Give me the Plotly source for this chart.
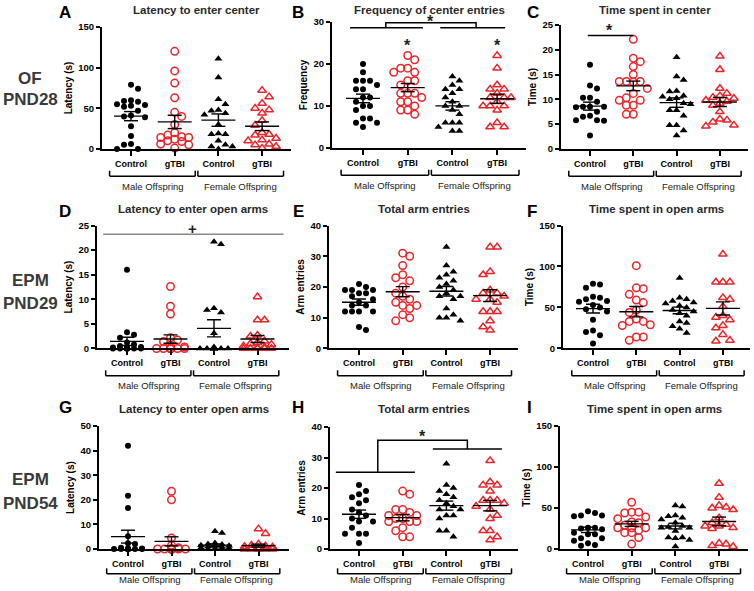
import numpy as np
import plotly.graph_objects as go

W, H = 754, 591
RED = "#e8262a"
FONT = "Liberation Sans, Arial, sans-serif"

categories = ["Control", "gTBI", "Control", "gTBI"]
group_labels = ["Male Offspring", "Female Offspring"]

# ---------------- data ----------------
# A  OF PND28 latency to enter center (s)
a_male_control = [79, 74, 60, 59, 58, 55, 54, 53, 52, 47, 41, 40, 39, 28, 16, 6, 5, 0, 0]
a_male_gtbi = [120, 96, 81, 63, 45, 40, 30, 20, 17, 15, 14, 14, 12, 10, 9, 6, 5, 1]
a_female_control = [111, 88, 61, 55, 48, 47, 44, 42, 30, 19, 18, 18, 10, 5, 3, 3, 0]
a_female_gtbi = [72, 64, 56, 50, 48, 44, 35, 29, 20, 18, 17, 13, 11, 10, 6, 5, 3, 1]
# B  frequency of center entries
b_male_control = [20, 18, 16, 16, 16, 15, 14, 14, 12, 12, 11, 10, 10, 9, 7, 7, 6, 6, 5]
b_male_gtbi = [22, 21, 19, 19, 18, 18, 16, 16, 15, 13, 13, 13, 12, 11, 11, 10, 9, 9, 8]
b_female_control = [17, 16, 15, 14, 14, 13, 12, 11, 10, 10, 9, 8, 6, 6, 6, 5, 4, 4]
b_female_gtbi = [22, 19, 15, 14, 14, 13, 12, 12, 12, 11, 10, 10, 10, 9, 6, 5, 5]
# C  time spent in center (s)
c_male_control = [17, 12.8, 12.2, 10.3, 10.3, 9.5, 8.5, 8.5, 8.5, 8.4, 7.5, 6.7, 6.5, 5.8, 5.8, 5.7, 2.7]
c_male_gtbi = [22.1, 18.3, 17.6, 16.6, 15, 13.6, 13.6, 13.6, 13.5, 12.2, 11.2, 10.3, 9.8, 9.8, 8.8, 8.8, 7.0, 7.0]
c_female_control = [18.5, 14.6, 13.9, 11.7, 11.6, 10.7, 10.5, 10.2, 10, 9.2, 9, 7.8, 7.8, 6.7, 4.8, 4.8, 3.7, 2.7]
c_female_gtbi = [18.7, 16, 12.2, 11.2, 10.7, 10.4, 10.2, 9.8, 9.6, 9.2, 8.8, 7.5, 6, 5.8, 5.4, 4.8, 4.6]
# D  EPM PND29 latency to enter open arms (s)
d_male_control = [16, 3.3, 2.8, 2.2, 1.2, 0.8, 0.5, 0.3, 0.2, 0.1, 0, 0, 0, 0, 0, 0, 0, 0, 0]
d_male_gtbi = [12.6, 8.6, 7.0, 2.2, 1.7, 1.4, 0.6, 0.3, 0, 0, 0, 0, 0, 0, 0, 0, 0, 0]
d_female_control = [21.7, 21.2, 8.2, 7.8, 7.3, 3.1, 0.3, 0, 0, 0, 0, 0, 0, 0, 0, 0, 0]
d_female_gtbi = [10.5, 5.8, 5.8, 2.7, 2.5, 1.5, 1.2, 1.0, 0.8, 0.5, 0.3, 0.2, 0, 0, 0, 0, 0]
# E  total arm entries
e_male_control = [21, 20, 19, 19, 19, 18, 18, 17, 16, 15, 14, 14, 12, 12, 12, 12, 7, 6]
e_male_gtbi = [31, 30, 27, 24, 23, 22, 20, 18, 17, 16, 15, 14, 14, 13, 11, 10, 9]
e_female_control = [33, 27, 25, 24, 23, 22, 21, 20, 19, 18, 17, 17, 16, 13, 11, 10, 10, 9]
e_female_gtbi = [33, 33, 25, 24, 19, 18, 18, 17, 16, 16, 15, 12, 12, 12, 9, 7, 6]
# F  time spent in open arms (s)
f_male_control = [79, 78, 74, 63, 62, 60, 58, 57, 53, 50, 48, 45, 35, 22, 20, 16, 6]
f_male_gtbi = [101, 74, 73, 66, 59, 56, 47, 44, 36, 33, 33, 29, 28, 14, 14, 10]
f_female_control = [86, 62, 60, 58, 56, 55, 52, 50, 47, 45, 43, 40, 33, 31, 27, 24, 19]
f_female_gtbi = [115, 81, 81, 81, 62, 60, 51, 40, 38, 35, 28, 25, 17, 10, 9]
# G  EPM PND54 latency to enter open arms (s)
g_male_control = [42, 21.7, 16.7, 5.2, 2.3, 2.0, 0.5, 0.2, 0, 0, 0, 0, 0, 0, 0, 0, 0, 0]
g_male_gtbi = [23.5, 20, 4.5, 1.5, 0.5, 0, 0, 0, 0, 0, 0, 0, 0, 0, 0, 0]
g_female_control = [7.2, 6.5, 2.4, 2.0, 1.8, 1.5, 1.3, 1.2, 1.0, 0.8, 0.5, 0.3, 0.2, 0, 0, 0, 0]
g_female_gtbi = [8.2, 6.3, 2.0, 1.5, 1.2, 1.0, 0.8, 0.5, 0.3, 0.2, 0, 0, 0, 0, 0, 0]
# H  total arm entries
h_male_control = [21, 19, 18, 17, 16, 15, 13, 12, 11, 10, 9, 9, 7, 5, 5, 5, 2]
h_male_gtbi = [19, 18, 13, 13, 12, 11, 11, 10, 10, 9, 9, 9, 7, 6, 4, 4]
h_female_control = [28, 21, 20, 19, 18, 17, 16, 15, 14, 13, 13, 11, 11, 10, 6, 6, 4]
h_female_gtbi = [29, 22, 21, 21, 19, 16, 16, 16, 15, 14, 13, 11, 10, 6, 6, 4, 3]
# I  time spent in open arms (s)
i_male_control = [46, 44, 41, 41, 40, 26, 26, 25, 24, 20, 18, 18, 13, 13, 10, 7, 5, 4]
i_male_gtbi = [57, 45, 45, 44, 39, 37, 33, 32, 29, 26, 26, 26, 23, 20, 20, 14, 6]
i_female_control = [53, 52, 41, 40, 38, 36, 32, 28, 27, 26, 26, 22, 14, 14, 13, 11, 3]
i_female_gtbi = [80, 63, 53, 51, 50, 48, 38, 32, 30, 28, 28, 26, 25, 7, 6, 4, 3]

# ---------------- panel layout (target pixel geometry) ----------------
# geo = (axis x0, axis x1, first category px, category spacing px, top px, bottom px)
panels = [
    dict(key="A", title="Latency to enter center", ylab="Latency (s)", ymax=150, dtick=50,
         data=[a_male_control, a_male_gtbi, a_female_control, a_female_gtbi], geo=(102, 291, 131, 43.7, 29, 150)),
    dict(key="B", title="Frequency of center entries", ylab="Frequency", ymax=30, dtick=10,
         data=[b_male_control, b_male_gtbi, b_female_control, b_female_gtbi], geo=(332, 526, 363, 44.7, 24, 149)),
    dict(key="C", title="Time spent in center", ylab="Time (s)", ymax=25, dtick=5,
         data=[c_male_control, c_male_gtbi, c_female_control, c_female_gtbi], geo=(561, 748, 590, 43.3, 27, 150)),
    dict(key="D", title="Latency to enter open arms", ylab="Latency (s)", ymax=25, dtick=5,
         data=[d_male_control, d_male_gtbi, d_female_control, d_female_gtbi], geo=(97, 289, 127, 43.5, 226, 348)),
    dict(key="E", title="Total arm entries", ylab="Arm entries", ymax=40, dtick=10,
         data=[e_male_control, e_male_gtbi, e_female_control, e_female_gtbi], geo=(329, 518, 359, 43.7, 226, 348)),
    dict(key="F", title="Time spent in open arms", ylab="Time (s)", ymax=150, dtick=50,
         data=[f_male_control, f_male_gtbi, f_female_control, f_female_gtbi], geo=(563, 750, 593, 43.3, 226, 348)),
    dict(key="G", title="Latency to enter open arms", ylab="Latency (s)", ymax=50, dtick=10,
         data=[g_male_control, g_male_gtbi, g_female_control, g_female_gtbi], geo=(99, 289, 128, 43.5, 425, 547)),
    dict(key="H", title="Total arm entries", ylab="Arm entries", ymax=40, dtick=10,
         data=[h_male_control, h_male_gtbi, h_female_control, h_female_gtbi], geo=(330, 518, 359, 43.7, 426, 547)),
    dict(key="I", title="Time spent in open arms", ylab="Time (s)", ymax=150, dtick=50,
         data=[i_male_control, i_male_gtbi, i_female_control, i_female_gtbi], geo=(560, 748, 588, 43.7, 425, 547)),
]

letter_pos = {"A": (65, 10), "B": (298, 10), "C": (533, 10), "D": (65, 212), "E": (298, 212),
              "F": (532, 212), "G": (65, 407), "H": (298, 407), "I": (529, 407)}
title_y = {0: 7.5, 1: 210, 2: 408}
row_labels = [("OF", "PND28", 80, 101), ("EPM", "PND29", 281, 303), ("EPM", "PND54", 478, 502)]

styles = [
    dict(symbol="circle", size=6, color="black", lw=0),
    dict(symbol="circle-open", size=7.5, color=RED, lw=1.5),
    dict(symbol="triangle-up", size=7, color="black", lw=0),
    dict(symbol="triangle-up-open", size=7.5, color=RED, lw=1.5),
]

# vertical mapping of the photographed page (measured): shown_y = 8.18 + 0.9738 * page_y
Y_OFF, Y_SC = 8.18, 0.9738


def page_y(shown):
    return (shown - Y_OFF) / Y_SC


def pg2paper(p):
    return 1 - p / H


def py2paper(shown, min_page=None):
    p = page_y(shown)
    if min_page is not None:
        p = max(p, min_page)
    return pg2paper(p)


def px2paper_x(px):
    return px / W


def swarm(vals, ppu, step=7.0, diam=7.0, maxoff=17.0):
    vals = np.asarray(vals, dtype=float)
    order = np.argsort(-vals, kind="stable")
    placed = []
    offs = np.zeros(len(vals))
    cands = [0.0]
    k = 1
    while k * step <= maxoff + 1e-9:
        cands += [k * step, -k * step]
        k += 1
    flip = 1
    for idx in order:
        y = vals[idx] * ppu
        best, bestc, bestd = None, 0.0, -1.0
        for c0 in cands:
            c = c0 * flip
            dmin = min([np.hypot(c - px, y - py) for px, py in placed], default=1e9)
            if dmin >= diam:
                best = c
                break
            if dmin > bestd:
                bestd, bestc = dmin, c
        if best is None:
            best = bestc
        if best != 0:
            flip = -flip
        offs[idx] = best
        placed.append((best, y))
    return offs


fig = go.Figure()
annotations = []
shapes = []
layout_axes = {}

for n, p in enumerate(panels):
    x0, x1, c0, s, top, bot = p["geo"]
    ax = "" if n == 0 else str(n + 1)
    xname, yname = "x" + ax, "y" + ax
    ppu = (bot - top) / p["ymax"]
    err_x, err_y = [], []
    for i, vals in enumerate(p["data"]):
        st = styles[i]
        offs = swarm(vals, ppu) / s
        fig.add_trace(go.Scatter(
            x=i + offs, y=vals, mode="markers", xaxis=xname, yaxis=yname, cliponaxis=False,
            marker=dict(symbol=st["symbol"], size=st["size"], color=st["color"],
                        line=dict(width=st["lw"], color=st["color"])),
            hoverinfo="y", showlegend=False))
        arr = np.asarray(vals, dtype=float)
        m = arr.mean()
        se = arr.std(ddof=1) / np.sqrt(len(arr))
        hw, cw = 17 / s, 7 / s
        err_x += [i - hw, i + hw, None, i - cw, i + cw, None, i - cw, i + cw, None, i, i, None]
        err_y += [m, m, None, m + se, m + se, None, m - se, m - se, None, m - se, m + se, None]
    fig.add_trace(go.Scatter(x=err_x, y=err_y, mode="lines", xaxis=xname, yaxis=yname,
                             line=dict(color="black", width=1.4), hoverinfo="skip", showlegend=False))

    layout_axes["xaxis" + ax] = dict(
        domain=[x0 / W, x1 / W], range=[(x0 - c0) / s, (x1 - c0) / s], anchor=yname,
        showgrid=False, zeroline=False, showline=True, linecolor="black", linewidth=2,
        ticks="outside", ticklen=5, tickwidth=1.5, tickcolor="black",
        tickvals=[0, 1, 2, 3], ticktext=categories,
        tickfont=dict(family=FONT, size=9, color="black", weight="bold"), fixedrange=True)
    layout_axes["yaxis" + ax] = dict(
        domain=[py2paper(bot), py2paper(top)], range=[0, p["ymax"]], anchor=xname,
        showgrid=False, zeroline=False, showline=True, linecolor="black", linewidth=2,
        ticks="outside", ticklen=4, tickwidth=1.5, tickcolor="black", dtick=p["dtick"], tick0=0,
        tickfont=dict(family=FONT, size=9.5, color="black", weight="bold"),
        title=dict(text=p["ylab"], font=dict(family=FONT, size=10, color="black", weight="bold"), standoff=4),
        fixedrange=True)

    def dx(v, c0=c0, s=s):
        return px2paper_x(c0 + v * s)

    def dy(v, bot=bot, ppu=ppu):
        return py2paper(bot - v * ppu)

    # group brackets under axis (kept inside the page at the bottom row)
    hb = min(page_y(bot + 27), 578.5)
    he = hb - 5.5
    lab = min(page_y(bot + 37), 584.5)
    for (a, b) in [(-0.49, 1.47), (1.53, 3.49)]:
        shapes.append(dict(type="line", xref="paper", yref="paper", x0=dx(a), x1=dx(b),
                           y0=pg2paper(hb), y1=pg2paper(hb), line=dict(color="black", width=1.5)))
        for e in (a, b):
            shapes.append(dict(type="line", xref="paper", yref="paper", x0=dx(e), x1=dx(e),
                               y0=pg2paper(hb), y1=pg2paper(he), line=dict(color="black", width=1.5)))
    for gi, gl in enumerate(group_labels):
        annotations.append(dict(text=gl, xref="paper", yref="paper", x=dx(0.5 + 2 * gi), y=pg2paper(lab),
                                showarrow=False, xanchor="center", yanchor="middle", borderpad=0,
                                font=dict(family=FONT, size=9.5, color="#222")))
    # title
    annotations.append(dict(text=p["title"], xref="paper", yref="paper", x=(x0 + x1) / 2 / W,
                            y=py2paper(title_y[n // 3], min_page=4.5), showarrow=False,
                            xanchor="center", yanchor="middle",
                            font=dict(family=FONT, size=11.5, color="#2a2a2a", weight="bold")))
    lx, ly = letter_pos[p["key"]]
    annotations.append(dict(text=p["key"], xref="paper", yref="paper", x=px2paper_x(lx),
                            y=py2paper(ly, min_page=6.5), showarrow=False, xanchor="center", yanchor="middle",
                            font=dict(family=FONT, size=17, color="black", weight="bold")))
    p["dx"] = dx
    p["dy"] = dy

# row labels
for l1, l2, y1, y2 in row_labels:
    for t, yy in ((l1, y1), (l2, y2)):
        annotations.append(dict(text=t, xref="paper", yref="paper", x=px2paper_x(30), y=py2paper(yy),
                                showarrow=False, xanchor="center", yanchor="middle",
                                font=dict(family=FONT, size=17, color="#3a3a3a", weight="bold")))

LW = dict(color="black", width=1.5)
STAR = dict(family=FONT, size=16, color="#222", weight="bold")
# B significance
pB = panels[1]
dx, dy = pB["dx"], pB["dy"]
for a, b in [(-0.29, 1.34), (1.73, 3.18)]:
    shapes.append(dict(type="line", xref="paper", yref="paper", x0=dx(a), x1=dx(b), y0=dy(28.6), y1=dy(28.6), line=LW))
shapes.append(dict(type="path", xref="paper", yref="paper",
                   path=f"M{dx(0.51)},{dy(28.6)} L{dx(0.51)},{dy(29.8)} L{dx(2.53)},{dy(29.8)} L{dx(2.53)},{dy(28.6)}",
                   line=LW))
for xv, yv in [(1.5, 30.0), (1, 24.5), (3, 24.5)]:
    annotations.append(dict(text="*", xref="paper", yref="paper", x=dx(xv), y=dy(yv), showarrow=False,
                            xanchor="center", yanchor="middle", borderpad=0, font=STAR))
# C significance
pC = panels[2]
dx, dy = pC["dx"], pC["dy"]
shapes.append(dict(type="line", xref="paper", yref="paper", x0=dx(-0.05), x1=dx(1.0), y0=dy(22.9), y1=dy(22.9), line=LW))
annotations.append(dict(text="*", xref="paper", yref="paper", x=dx(0.46), y=dy(23.8), showarrow=False,
                        xanchor="center", yanchor="middle", borderpad=0, font=STAR))
# D significance (+)
pD = panels[3]
dx, dy = pD["dx"], pD["dy"]
shapes.append(dict(type="line", xref="paper", yref="paper", x0=dx(-0.55), x1=dx(3.6), y0=dy(23.2), y1=dy(23.2),
                   line=dict(color="#8a8a8a", width=1.5)))
annotations.append(dict(text="+", xref="paper", yref="paper", x=dx(1.5), y=dy(24.3), showarrow=False,
                        xanchor="center", yanchor="middle", font=dict(family=FONT, size=15, color="#222", weight="bold")))
# H significance
pH = panels[7]
dx, dy = pH["dx"], pH["dy"]
shapes.append(dict(type="line", xref="paper", yref="paper", x0=dx(-0.53), x1=dx(1.28), y0=dy(25.2), y1=dy(25.2), line=LW))
shapes.append(dict(type="line", xref="paper", yref="paper", x0=dx(1.69), x1=dx(3.27), y0=dy(32.8), y1=dy(32.8), line=LW))
shapes.append(dict(type="path", xref="paper", yref="paper",
                   path=f"M{dx(0.43)},{dy(25.2)} L{dx(0.43)},{dy(35.7)} L{dx(2.48)},{dy(35.7)} L{dx(2.48)},{dy(32.8)}",
                   line=LW))
annotations.append(dict(text="*", xref="paper", yref="paper", x=dx(1.46), y=dy(37.0), showarrow=False,
                        xanchor="center", yanchor="middle", borderpad=0, font=STAR))

fig.update_layout(
    width=W, height=H, margin=dict(l=0, r=0, t=0, b=0),
    paper_bgcolor="white", plot_bgcolor="white", showlegend=False,
    font=dict(family=FONT), annotations=annotations, shapes=shapes, **layout_axes)

POST = (
    "var de=document.documentElement,b=document.body;"
    "de.style.margin='0';de.style.padding='0';de.style.overflow='hidden';de.style.height='591px';"
    "b.style.margin='0';b.style.padding='0';b.style.overflow='hidden';b.style.height='591px';"
    "document.querySelectorAll('.plotly-graph-div').forEach(function(d){"
    "d.style.position='fixed';d.style.top='0px';d.style.left='0px';});"
)
fig.write_html("out.html", config={"displayModeBar": False}, post_script=POST)
